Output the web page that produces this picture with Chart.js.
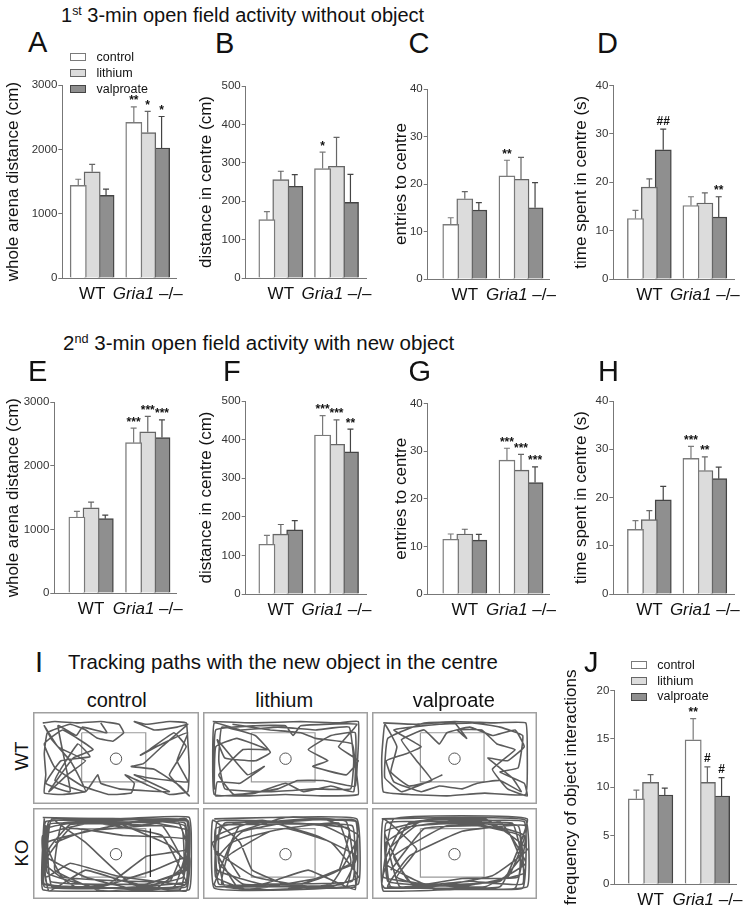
<!DOCTYPE html>
<html>
<head>
<meta charset="utf-8">
<script src="https://cdn.jsdelivr.net/npm/chart.js@4.4.0/dist/chart.umd.min.js"></script>
<style>
  html, body { margin: 0; padding: 0; background: #fff; }
  body { width: 751px; height: 910px; position: relative; overflow: hidden;
         font-family: "Liberation Sans", Arial, sans-serif; color: #111; }
  canvas { position: absolute; }
  .t { position: absolute; white-space: nowrap; }
  .sup { font-size: 0.62em; position: relative; top: -0.55em; }
</style>
</head>
<body>
<script>
const FONT = '"Liberation Sans", Arial, sans-serif';

// groups and treatments
const treatments = ['control', 'lithium', 'valproate'];
const genotypes = ['WT', 'Gria1'];
const koSuffix = ' \u2013/\u2013';
const fills = ['#ffffff', '#dcdcdc', '#8f8f8f'];
const edges = ['#7a7a7a', '#666666', '#444444'];

// order everywhere: WT control, WT lithium, WT valproate, Gria1 control, Gria1 lithium, Gria1 valproate
// A - whole arena distance, 1st trial
const dist1Mean = [1440, 1650, 1285, 2420, 2260, 2020];
const dist1Sem  = [95, 115, 95, 240, 330, 490];
const dist1Sig  = ['', '', '', '**', '*', '*'];
// B - distance in centre, 1st trial
const centreDist1Mean = [152, 256, 239, 285, 291, 197];
const centreDist1Sem  = [21, 22, 30, 43, 75, 73];
const centreDist1Sig  = ['', '', '', '*', '', ''];
// C - entries to centre, 1st trial
const entries1Mean = [11.5, 16.9, 14.5, 21.7, 21.0, 15.0];
const entries1Sem  = [1.4, 1.5, 1.6, 3.3, 4.6, 5.3];
const entries1Sig  = ['', '', '', '**', '', ''];
// D - time in centre, 1st trial
const time1Mean = [12.5, 19.0, 26.7, 15.2, 15.7, 12.8];
const time1Sem  = [1.7, 1.7, 4.3, 1.8, 2.1, 4.2];
const time1Sig  = ['', '', '##', '', '', '**'];
// E - whole arena distance, 2nd trial
const dist2Mean = [1195, 1340, 1170, 2365, 2535, 2445];
const dist2Sem  = [90, 90, 55, 230, 245, 280];
const dist2Sig  = ['', '', '', '***', '***', '***'];
// F - distance in centre, 2nd trial
const centreDist2Mean = [129, 155, 166, 412, 388, 368];
const centreDist2Sem  = [23, 25, 24, 50, 63, 59];
const centreDist2Sig  = ['', '', '', '***', '***', '**'];
// G - entries to centre, 2nd trial
const entries2Mean = [11.5, 12.6, 11.3, 28.1, 26.0, 23.4];
const entries2Sem  = [1.1, 1.0, 1.2, 2.5, 3.3, 3.3];
const entries2Sig  = ['', '', '', '***', '***', '***'];
// H - time in centre, 2nd trial
const time2Mean = [13.4, 15.4, 19.5, 28.1, 25.6, 23.9];
const time2Sem  = [1.8, 1.9, 2.8, 2.5, 2.8, 2.4];
const time2Sig  = ['', '', '', '***', '**', ''];
// J - object interactions
const interMean = [8.8, 10.5, 9.2, 14.9, 10.5, 9.1];
const interSem  = [0.9, 0.8, 0.7, 2.2, 1.6, 1.9];
const interSig  = ['', '', '', '**', '#', '#'];

// I - tracking paths, arena units x 0..100, y 0..56
const centreZone = [[27.5, 10], [69.5, 10], [69.5, 45], [27.5, 45], [27.5, 10]];
const objectPos = [[50, 28.5]];
const wtControlPath = [[2,3],[10,2],[25,3],[40,2],[52,4],[55,10],[48,16],[38,14],[30,8],[20,4],[5,10],[3,25],[4,40],[3,53],[15,54],[30,52],[27,44],[20,30],[8,15],[3,5],[12,20],[30,30],[18,40],[6,52],[22,28],[35,22],[15,8],[3,18],[10,35],[28,48],[45,54],[60,53],[62,46],[56,40],[70,47],[85,54],[97,52],[98,35],[97,15],[96,3],[85,2],[70,4],[62,2],[75,8],[90,6],[97,4],[80,20],[68,32],[60,34],[75,36],[92,48],[98,55],[85,40],[96,20],[88,10],[72,22],[66,26],[80,18],[97,10],[90,30],[97,45],[70,42],[62,40],[85,52],[52,50],[40,46],[38,40],[30,52],[10,44],[25,18],[33,27],[14,30],[4,46],[20,52],[12,5],[24,12],[28,6],[44,10],[40,3]];
const wtLithiumPath = [[2,2],[30,3],[60,2],[85,3],[98,2],[98,20],[97,40],[98,54],[75,55],[50,54],[25,55],[3,54],[2,30],[3,3],[20,8],[45,6],[70,8],[92,6],[95,30],[93,50],[70,50],[40,52],[10,50],[6,30],[8,6],[30,12],[40,24],[30,30],[10,28],[5,15],[25,40],[36,34],[20,46],[5,45],[4,55],[30,53],[50,46],[62,52],[80,48],[95,52],[96,10],[80,12],[65,22],[78,30],[68,34],[90,40],[98,30],[85,20],[97,4],[60,5],[55,12],[50,5],[30,5],[4,8],[3,50],[4,20],[18,14],[38,22],[22,22],[6,40],[16,54],[45,50],[58,44],[75,44],[96,48],[94,18],[70,14],[60,10],[40,8],[15,4]];
const wtValproatePath = [[3,3],[25,4],[50,2],[75,3],[97,3],[98,25],[97,54],[70,53],[45,55],[20,54],[3,52],[2,28],[4,4],[12,20],[8,38],[20,48],[35,44],[25,30],[15,15],[30,8],[40,18],[45,10],[60,6],[75,12],[90,8],[96,20],[85,30],[72,28],[88,42],[94,52],[80,44],[65,46],[55,50],[40,48],[28,52],[10,45],[5,30],[18,25],[28,20],[10,8],[40,4],[62,3],[80,6],[95,12],[92,35],[80,38],[96,46],[98,55],[85,50],[75,36],[90,22],[78,18],[68,8],[52,8],[58,14],[50,3],[30,3],[6,14],[4,42],[15,52],[30,46],[42,40]];
const koControlPath = [[2,2],[50,3],[98,2],[98,54],[50,55],[2,54],[3,3],[4,30],[30,45],[60,53],[96,40],[97,5],[70,4],[40,10],[5,20],[3,50],[40,52],[75,40],[98,30],[96,55],[60,50],[30,20],[10,4],[50,6],[90,4],[97,25],[70,30],[45,50],[8,52],[5,10],[30,5],[80,15],[96,50],[50,44],[20,35],[4,45],[6,5],[60,3],[95,8],[94,45],[65,52],[25,53],[3,35],[20,10],[55,15],[97,18],[88,52],[40,55],[10,40],[15,6],[75,6],[98,12],[92,54],[55,48],[30,40],[6,55],[2,15],[45,4],[85,22],[96,35],[75,54],[35,52],[5,42],[8,3],[65,8],[96,3],[97,48],[45,53],[2,50],[4,8],[3,52],[50,53],[96,52],[97,4],[50,4],[4,5],[5,50],[95,51],[95,6],[40,6],[6,7],[7,48],[30,50],[70,50],[94,40],[93,10],[60,7],[20,7],[6,25],[15,45],[85,48],[92,30],[80,8],[30,12],[10,20]];
const koLithiumPath = [[3,3],[40,2],[97,3],[98,50],[60,54],[3,53],[2,4],[20,20],[28,40],[50,50],[90,52],[96,20],[75,8],[30,5],[5,15],[4,45],[25,54],[70,46],[95,35],[97,5],[60,4],[22,12],[6,30],[10,52],[50,54],[85,40],[92,10],[55,6],[10,6],[3,25],[30,45],[75,53],[98,45],[80,20],[50,10],[15,20],[8,50],[45,52],[88,50],[97,30],[70,15],[35,4],[4,10],[5,40],[35,50],[65,40],[96,54],[90,5],[50,2],[2,20],[20,54],[80,50],[98,15],[75,3],[20,8],[3,50],[4,52],[50,52],[96,52],[96,4],[50,5],[5,5],[6,50],[40,50],[94,48],[94,8],[30,7],[7,8],[6,35],[22,50],[60,50],[93,35],[85,6],[40,12],[12,30],[20,45]];
const koValproatePath = [[2,3],[50,2],[97,4],[98,52],[50,54],[3,55],[3,3],[25,25],[12,45],[40,54],[85,45],[96,15],[60,4],[15,10],[4,35],[30,50],[70,52],[97,35],[80,5],[30,4],[5,20],[8,52],[60,48],[95,50],[92,8],[45,8],[10,30],[25,53],[75,44],[98,25],[70,3],[20,6],[3,45],[50,52],[90,53],[97,8],[55,12],[20,30],[6,52],[65,50],[96,42],[85,12],[40,3],[4,12],[20,48],[80,52],[98,3],[10,3],[2,50],[4,53],[50,53],[95,53],[96,5],[50,5],[5,6],[6,48],[35,51],[80,48],[94,30],[88,6],[25,8],[7,25],[14,52],[55,46],[92,45],[93,15],[65,8],[30,10],[8,40]];
const koControlEdge = [[72.5, 10], [72.5, 45]];

Chart.defaults.font.family = FONT;

function txt(html, x, base, size, style) {
  const d = document.createElement('div');
  d.className = 't';
  d.innerHTML = html;
  d.style.fontSize = size + 'px';
  d.style.lineHeight = size + 'px';
  d.style.left = x + 'px';
  d.style.top = (base - 0.8465 * size) + 'px';
  if (style) Object.assign(d.style, style);
  document.body.appendChild(d);
  return d;
}

// error bars, significance marks and genotype labels
const barExtras = {
  id: 'barExtras',
  afterDatasetsDraw(chart, args, o) {
    const ctx = chart.ctx, ys = chart.scales.y, xs = chart.scales.x;
    ctx.save();
    chart.data.datasets.forEach((ds, d) => {
      chart.getDatasetMeta(d).data.forEach((bar, g) => {
        const k = g * 3 + d;
        const top = ys.getPixelForValue(o.mean[k] + o.sem[k]);
        ctx.strokeStyle = ds.borderColor;
        ctx.lineWidth = 1.2;
        ctx.beginPath();
        ctx.moveTo(bar.x, bar.y);
        ctx.lineTo(bar.x, top);
        ctx.moveTo(bar.x - 3, top);
        ctx.lineTo(bar.x + 3, top);
        ctx.stroke();
        if (o.sig[k]) {
          ctx.font = 'bold 12px ' + FONT;
          ctx.fillStyle = '#111';
          ctx.textAlign = 'center';
          ctx.textBaseline = 'alphabetic';
          const m = ctx.measureText(o.sig[k]);
          const mid = top - 9;
          ctx.fillText(o.sig[k], bar.x, mid + (m.actualBoundingBoxAscent - m.actualBoundingBoxDescent) / 2);
        }
      });
    });
    ctx.fillStyle = '#111';
    ctx.textAlign = 'left';
    ctx.textBaseline = 'alphabetic';
    const base = chart.chartArea.bottom + 20.5;
    genotypes.forEach((name, g) => {
      const cx = xs.getPixelForValue(g * 4 + 2);
      if (g === 0) {
        ctx.font = '17px ' + FONT;
        ctx.fillText(name, cx - ctx.measureText(name).width / 2, base);
      } else {
        ctx.font = 'italic 17px ' + FONT;
        const w1 = ctx.measureText(name).width;
        ctx.font = '17px ' + FONT;
        const w2 = ctx.measureText(koSuffix).width;
        const x0 = cx - (w1 + w2) / 2;
        ctx.font = 'italic 17px ' + FONT;
        ctx.fillText(name, x0, base);
        ctx.font = '17px ' + FONT;
        ctx.fillText(koSuffix, x0 + w1, base);
      }
    });
    ctx.restore();
  }
};

function barChart(p) {
  const [axisX, barLeft, xEnd, yTop, yBot, titleLeft] = p.geom;
  const slot = (xEnd - barLeft) / 7;
  const lead = (barLeft - axisX) / slot;
  const left = Math.round(titleLeft - 4);
  const top = Math.round(yTop - 24);
  const xH = 32, padR = 16;
  const W = Math.round(xEnd + padR - left);
  const H = Math.round(yBot - top + xH);
  const cv = document.createElement('canvas');
  cv.width = W; cv.height = H;
  cv.style.left = left + 'px';
  cv.style.top = top + 'px';
  document.body.appendChild(cv);
  new Chart(cv, {
    type: 'bar',
    data: {
      datasets: treatments.map((t, d) => ({
        label: t,
        data: genotypes.map((g, gi) => ({ x: gi * 4 + d + 1, y: p.mean[gi * 3 + d] })),
        backgroundColor: fills[d],
        borderColor: edges[d],
        borderWidth: 1.4,
        grouped: false,
        barThickness: slot
      }))
    },
    options: {
      responsive: false, animation: false, devicePixelRatio: 1, events: [],
      layout: { padding: { left: 0, top: yTop - top, right: W - (xEnd - left), bottom: 0 } },
      plugins: {
        legend: { display: false }, tooltip: { enabled: false },
        barExtras: { mean: p.mean, sem: p.sem, sig: p.sig }
      },
      scales: {
        x: {
          type: 'linear', min: 0.5 - lead, max: 7.5,
          ticks: { display: false, stepSize: 1, includeBounds: false },
          grid: { display: false },
          border: { display: true, color: '#777', width: 1 },
          afterFit: s => { s.height = xH; }
        },
        y: {
          min: 0, max: p.max,
          ticks: { stepSize: p.step, color: '#333', padding: 1, font: { size: 11.5 }, callback: v => String(v) },
          grid: { drawOnChartArea: false, drawTicks: true, tickLength: 4, color: '#777' },
          border: { color: '#777', width: 1 },
          title: { display: true, text: p.title, color: '#111', padding: 0, font: { size: 17 } },
          afterFit: s => { s.width = axisX - left; }
        }
      }
    },
    plugins: [barExtras]
  });
}

// geom: y-axis x, first bar left, x-axis end, pixel of max, pixel of 0, y-title left
const panels = [
  { mean: dist1Mean, sem: dist1Sem, sig: dist1Sig, title: 'whole arena distance (cm)', max: 3000, step: 1000, geom: [62.3, 63.3, 176.7, 85, 278, 7] },
  { mean: centreDist1Mean, sem: centreDist1Sem, sig: centreDist1Sig, title: 'distance in centre (cm)', max: 500, step: 100, geom: [245.7, 252.3, 366, 86, 278.3, 200] },
  { mean: entries1Mean, sem: entries1Sem, sig: entries1Sig, title: 'entries to centre', max: 40, step: 10, geom: [427.7, 437.3, 549.7, 89, 279.3, 395] },
  { mean: time1Mean, sem: time1Sem, sig: time1Sig, title: 'time spent in centre (s)', max: 40, step: 10, geom: [613.3, 621, 734.3, 85.5, 279.3, 575] },
  { mean: dist2Mean, sem: dist2Sem, sig: dist2Sig, title: 'whole arena distance (cm)', max: 3000, step: 1000, geom: [54.3, 63.3, 176.7, 402.3, 593.3, 7] },
  { mean: centreDist2Mean, sem: centreDist2Sem, sig: centreDist2Sig, title: 'distance in centre (cm)', max: 500, step: 100, geom: [245.7, 252.3, 366, 401, 594.3, 200] },
  { mean: entries2Mean, sem: entries2Sem, sig: entries2Sig, title: 'entries to centre', max: 40, step: 10, geom: [427.7, 437.3, 549.7, 403.5, 594.3, 395] },
  { mean: time2Mean, sem: time2Sem, sig: time2Sig, title: 'time spent in centre (s)', max: 40, step: 10, geom: [613.3, 621, 734.3, 401, 594.3, 575] },
  { mean: interMean, sem: interSem, sig: interSig, title: 'frequency of object interactions', max: 20, step: 5, geom: [614.3, 622.7, 736.3, 690.5, 884.2, 565] }
];
panels.forEach(barChart);

// tracking path arenas
const arenaFrame = {
  id: 'arenaFrame',
  beforeDraw(chart) {
    const ctx = chart.ctx;
    ctx.save();
    ctx.strokeStyle = '#a0a0a0';
    ctx.lineWidth = 1.5;
    ctx.strokeRect(0.75, 0.75, chart.width - 1.5, chart.height - 1.5);
    ctx.restore();
  }
};
const pts = a => a.map(([x, y]) => ({ x, y }));
const trackCols = [[33.3, 199.3], [203.3, 368.3], [371.7, 536.7]];
const trackRows = [[712.3, 804], [808, 899.3]];
const trackPaths = [
  [wtControlPath, wtLithiumPath, wtValproatePath],
  [koControlPath, koLithiumPath, koValproatePath]
];
trackPaths.forEach((row, r) => row.forEach((path, c) => {
  const [x0, x1] = trackCols[c], [y0, y1] = trackRows[r];
  const cv = document.createElement('canvas');
  cv.width = Math.round(x1 - x0); cv.height = Math.round(y1 - y0);
  cv.style.left = Math.round(x0) + 'px';
  cv.style.top = Math.round(y0) + 'px';
  document.body.appendChild(cv);
  const sets = [
    { data: pts(objectPos), pointRadius: 5.7, pointBackgroundColor: '#fff', pointBorderColor: '#555', pointBorderWidth: 1, order: 0 },
    { data: pts(path), showLine: true, borderColor: '#5c5c5c', borderWidth: 1.6, tension: 0.1, pointRadius: 0, order: 1 },
    { data: pts(centreZone), showLine: true, borderColor: '#9a9a9a', borderWidth: 1.2, pointRadius: 0, order: 2 }
  ];
  if (r === 1 && c === 0) {
    sets.push({ data: pts(koControlEdge), showLine: true, borderColor: '#222', borderWidth: 1.2, pointRadius: 0, order: 0.5 });
  }
  new Chart(cv, {
    type: 'scatter',
    data: { datasets: sets },
    options: {
      responsive: false, animation: false, devicePixelRatio: 1, events: [],
      layout: { padding: 4 },
      plugins: { legend: { display: false }, tooltip: { enabled: false } },
      scales: {
        x: { display: false, min: 0, max: 100 },
        y: { display: false, min: 0, max: 56, reverse: true }
      }
    },
    plugins: [arenaFrame]
  });
}));

// headings and panel letters
txt('1<span class="sup">st</span> 3-min open field activity without object', 61, 21.7, 20);
txt('2<span class="sup">nd</span> 3-min open field activity with new object', 63, 350, 20.5);
txt('Tracking paths with the new object in the centre', 68, 669, 20.4);
[['A', 28, 53], ['B', 215, 53.3], ['C', 408.5, 53.3], ['D', 597, 53.3],
 ['E', 28, 381.7], ['F', 223, 381.7], ['G', 408.5, 381.7], ['H', 598, 381.7],
 ['I', 35, 673], ['J', 584, 673]].forEach(([l, x, b]) => txt(l, x, b, 29));

// column and row labels of the tracking panel
[[116.7, 'control'], [284.2, 'lithium'], [453.8, 'valproate']].forEach(([cx, s]) =>
  txt(s, cx, 706.7, 20, { transform: 'translateX(-50%)' }));
[[755.8, 'WT'], [853.3, 'KO']].forEach(([cy, s]) => {
  const d = txt(s, 21.7, cy, 18.6);
  d.style.top = cy + 'px';
  d.style.transform = 'translate(-50%, -50%) rotate(-90deg)';
});

// legends
function legend(x, boxTop) {
  treatments.forEach((t, d) => {
    const b = document.createElement('div');
    b.style.cssText = `position:absolute;left:${x}px;top:${boxTop + d * 15.8}px;width:14px;height:6px;` +
      `background:${fills[d]};border:1px solid ${edges[d]};`;
    document.body.appendChild(b);
    txt(t, x + 26.5, boxTop + d * 15.8 + 8.3, 12.5);
  });
}
legend(70, 53.3);
legend(630.7, 661);
</script>
</body>
</html>
